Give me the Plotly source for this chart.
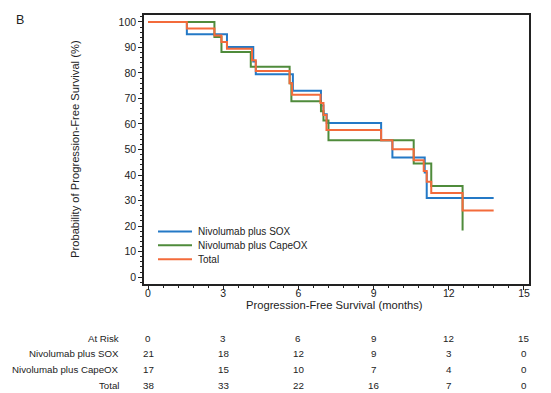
import plotly.graph_objects as go

# ---- data ----
sox_t = [0, 1.55, 3.15, 4.2, 4.3, 5.78, 6.9, 7.0, 7.13, 9.3, 9.75, 11.04, 11.12, 13.79]
sox_v = [100, 95.2, 90.2, 84.5, 79.5, 73.0, 67.2, 63.8, 60.4, 53.6, 46.9, 41.0, 31.0, 31.0]

cape_t = [0, 2.65, 2.93, 4.1, 5.65, 5.72, 6.9, 7.0, 7.2, 10.6, 11.3, 12.55]
cape_v = [100, 94.1, 88.2, 82.4, 76.0, 68.9, 65.0, 61.4, 53.6, 44.5, 35.7, 18.3]

tot_t = [0, 1.55, 2.65, 2.93, 3.15, 4.15, 4.3, 5.65, 5.75, 6.88, 7.0, 7.12,
         9.3, 9.75, 10.6, 11.0, 11.12, 11.3, 12.55, 13.79]
tot_v = [100, 97.4, 94.7, 92.1, 89.5, 85.0, 80.8, 76.0, 71.5, 68.2, 63.5, 57.6,
         53.6, 50.1, 45.8, 41.6, 37.4, 33.0, 26.1, 26.1]

series_names = ["Nivolumab plus SOX", "Nivolumab plus CapeOX", "Total"]
colors = ["#2479c6", "#4f8b3b", "#f36b3b"]

risk_times = [0, 3, 6, 9, 12, 15]
risk_sox = [21, 18, 12, 9, 3, 0]
risk_cape = [17, 15, 10, 7, 4, 0]
risk_total = [38, 33, 22, 16, 7, 0]

FONT = "Liberation Sans, Arial, sans-serif"

fig = go.Figure()
for name, t, v, c in zip(series_names, [sox_t, cape_t, tot_t], [sox_v, cape_v, tot_v], colors):
    fig.add_trace(go.Scatter(x=t, y=v, mode="lines", line=dict(color=c, width=2, shape="hv"),
                             name=name, showlegend=False))

# page has an 8px body margin: work in page pixels, convert to figure
O = 8
W, H = 551 - O, 393 - O
L, R, T, B = 144 - O, 529 - O, 13 - O, 284 - O
pw, ph = R - L, B - T

def px(x):  # page pixel x -> paper
    return (x - O - L) / pw

def py(y):  # page pixel y -> paper
    return (B - (y - O)) / ph

fig.update_layout(
    width=W, height=H,
    margin=dict(l=L, r=W - R, t=T, b=H - B),
    paper_bgcolor="white", plot_bgcolor="white",
    font=dict(family=FONT, size=10, color="#222"),
    showlegend=False,
)
fig.update_xaxes(range=[-0.16, 15.2], tickvals=[0, 3, 6, 9, 12, 15],
                 ticks="outside", ticklen=4, tickcolor="#222", ticklabelstandoff=-5,
                 showline=True, linecolor="#222", linewidth=1.5, mirror=True,
                 showgrid=False, zeroline=False, tickfont=dict(size=10.5),
                 minor=dict(dtick=0.6, ticks="outside", ticklen=2, tickcolor="#222"))
fig.update_yaxes(range=[-2.7, 102.7], tickvals=list(range(0, 101, 10)),
                 ticks="outside", ticklen=4, tickcolor="#222",
                 showline=True, linecolor="#222", linewidth=1.5, mirror=True,
                 showgrid=False, zeroline=False, tickfont=dict(size=10.5),
                 minor=dict(dtick=2, ticks="outside", ticklen=2, tickcolor="#222"))

def note(text, x, y, xref="paper", xanchor="center", size=10, **kw):
    return dict(text=text, x=x, y=y, xref=xref, yref="paper", xanchor=xanchor,
                yanchor="middle", showarrow=False, font=dict(size=size, family=FONT), **kw)

ann = []
ann.append(note("Probability of Progression-Free Survival (%)", px(75), py(148),
                size=11.2, textangle=-90))
ann.append(note("Progression-Free Survival (months)", px(334), py(305), size=11.2))
ann.append(note("B", px(20), py(18), size=12.5))

# manual legend
leg_y = [231, 245, 259]
for name, c, yy in zip(series_names, colors, leg_y):
    fig.add_shape(type="line", xref="paper", yref="paper", x0=px(158), x1=px(192),
                  y0=py(yy), y1=py(yy), line=dict(color=c, width=2))
    ann.append(note(name, px(196), py(yy), xanchor="left"))

row_labels = ["At Risk", "Nivolumab plus SOX", "Nivolumab plus CapeOX", "Total"]
row_vals = [risk_times, risk_sox, risk_cape, risk_total]
row_y = [339, 354, 370, 386]
for lab, vals, yy in zip(row_labels, row_vals, row_y):
    ann.append(note(lab, px(121), py(yy), xanchor="right", size=9.7))
    for t, v in zip(risk_times, vals):
        ann.append(note(str(v), t, py(yy), xref="x", size=9.8))
fig.update_layout(annotations=ann)

fig.add_shape(type="line", xref="paper", yref="paper", x0=px(546), x1=px(546),
              y0=py(290), y1=py(393), line=dict(color="#bbbbbb", width=1.5))

fig.write_html("out.html")
